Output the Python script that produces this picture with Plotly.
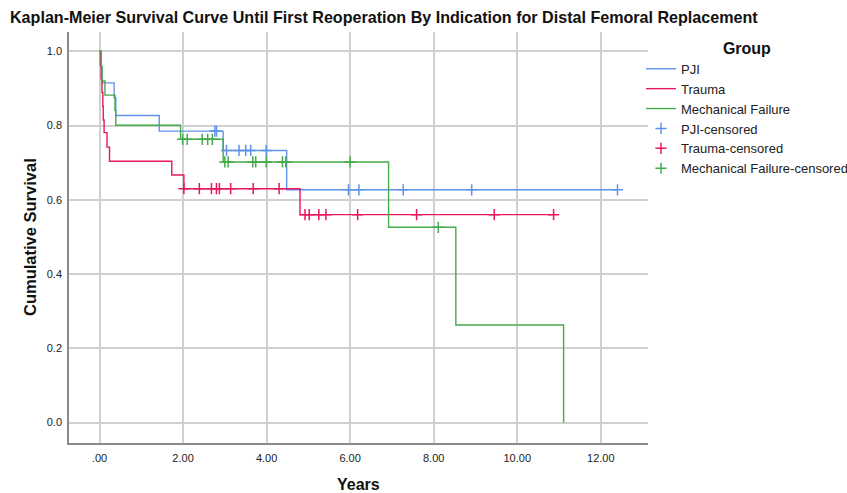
import numpy as np
import plotly.graph_objects as go

# ---- data ----
pji_t = [0.0, 0.03, 0.06, 0.35, 0.39, 1.43, 2.96, 4.48, 12.40]
pji_s = [1.0, 0.958, 0.915, 0.875, 0.827, 0.785, 0.733, 0.627, 0.627]
pji_cens_t = [2.76, 2.80, 3.04, 3.34, 3.50, 3.62, 3.99, 5.96, 6.21, 7.27, 8.91, 12.40]

tr_t = [0.0, 0.02, 0.04, 0.06, 0.08, 0.09, 0.11, 0.18, 0.24, 1.73, 2.02, 4.80, 10.87]
tr_s = [1.0, 0.963, 0.926, 0.889, 0.852, 0.815, 0.781, 0.742, 0.704, 0.667, 0.630, 0.560, 0.560]
tr_cens_t = [2.02, 2.39, 2.68, 2.80, 2.87, 3.14, 3.68, 4.30, 4.92, 5.02, 5.25, 5.42,
             6.18, 7.59, 9.45, 10.87]

mf_t = [0.0, 0.04, 0.06, 0.13, 0.37, 0.39, 1.94, 2.96, 6.92, 8.53, 11.11]
mf_s = [1.0, 0.96, 0.92, 0.882, 0.841, 0.801, 0.763, 0.702, 0.526, 0.263, 0.0]
mf_cens_t = [1.99, 2.10, 2.46, 2.59, 2.70, 3.00, 3.08, 3.67, 3.74, 3.99, 4.38, 4.46,
             6.00, 8.11]

x_tickvals = [0, 2, 4, 6, 8, 10, 12]
x_ticktext = [".00", "2.00", "4.00", "6.00", "8.00", "10.00", "12.00"]
y_tickvals = [0.0, 0.2, 0.4, 0.6, 0.8, 1.0]
y_ticktext = ["0.0", "0.2", "0.4", "0.6", "0.8", "1.0"]

BLUE = "#5f93ea"
RED = "#e8175d"
GREEN = "#45aa4a"
FONT = "Liberation Sans, Arial, sans-serif"


def level_at(ts, ss, t):
    ts = np.asarray(ts)
    idx = np.searchsorted(ts, t, side="right") - 1
    return [ss[i] for i in idx]


fig = go.Figure()
for name, t, s, c in [("PJI", pji_t, pji_s, BLUE),
                      ("Trauma", tr_t, tr_s, RED),
                      ("Mechanical Failure", mf_t, mf_s, GREEN)]:
    fig.add_trace(go.Scatter(x=t, y=s, mode="lines", name=name,
                             line=dict(color=c, width=1.4, shape="hv")))

for name, t, s, ct, c in [("PJI-censored", pji_t, pji_s, pji_cens_t, BLUE),
                          ("Trauma-censored", tr_t, tr_s, tr_cens_t, RED),
                          ("Mechanical Failure-censored", mf_t, mf_s, mf_cens_t, GREEN)]:
    fig.add_trace(go.Scatter(x=ct, y=level_at(t, s, ct), mode="markers", name=name,
                             marker=dict(symbol="cross-thin", size=8,
                                         line=dict(color=c, width=1.5), color=c)))

L, R, T, B = 69, 648, 32, 443
W, H = 847, 493
pw, ph = R - L, B - T

fig.update_layout(
    width=W, height=H,
    margin=dict(l=L, r=W - R, t=T, b=H - B, pad=0, autoexpand=False),
    paper_bgcolor="white", plot_bgcolor="white",
    font=dict(family=FONT, size=11, color="#222"),
    title=dict(text="<b>Kaplan-Meier Survival Curve Until First Reoperation By Indication for Distal Femoral Replacement</b>",
               x=10 / W, xanchor="left", xref="container",
               y=1 - 17 / H, yanchor="middle", yref="container",
               font=dict(family=FONT, size=16.1, color="#111")),
    showlegend=True,
    legend=dict(x=(641 - L) / pw, xanchor="left", y=(B - 33) / ph, yanchor="top",
                bgcolor="rgba(0,0,0,0)", borderwidth=0,
                font=dict(family=FONT, size=13, color="#222"),
                title=dict(text="<b>Group</b>", side="top center",
                           font=dict(family=FONT, size=16, color="#111")),
                tracegroupgap=0, itemwidth=30),
    xaxis=dict(range=[-0.73, 13.13], tickvals=x_tickvals, ticktext=x_ticktext,
               showgrid=True, gridcolor="#d0d0d0", gridwidth=1.6, zeroline=False,
               showline=True, linecolor="#8a8a8a", linewidth=1.5,
               ticks="outside", ticklen=4, tickcolor="rgba(0,0,0,0)",
               tickfont=dict(family=FONT, size=11, color="#222")),
    yaxis=dict(range=[-0.055, 1.052], tickvals=y_tickvals, ticktext=y_ticktext,
               showgrid=True, gridcolor="#d0d0d0", gridwidth=1.6, zeroline=False,
               showline=True, linecolor="#8a8a8a", linewidth=1.5,
               ticks="outside", ticklen=3, tickcolor="rgba(0,0,0,0)",
               tickfont=dict(family=FONT, size=11, color="#222")),
    annotations=[
        dict(text="<b>Cumulative Survival</b>", x=(30 - L) / pw, y=(B - 237) / ph,
             xref="paper", yref="paper", textangle=-90, showarrow=False,
             xanchor="center", yanchor="middle",
             font=dict(family=FONT, size=16.5, color="#111")),
        dict(text="<b>Years</b>", x=(358 - L) / pw, y=(B - 484) / ph,
             xref="paper", yref="paper", showarrow=False,
             xanchor="center", yanchor="middle",
             font=dict(family=FONT, size=16, color="#111")),
    ],
)

fig.write_html("out.html", config={"displayModeBar": False},
               post_script="document.body.style.margin='0px';document.body.style.overflow='hidden';")
